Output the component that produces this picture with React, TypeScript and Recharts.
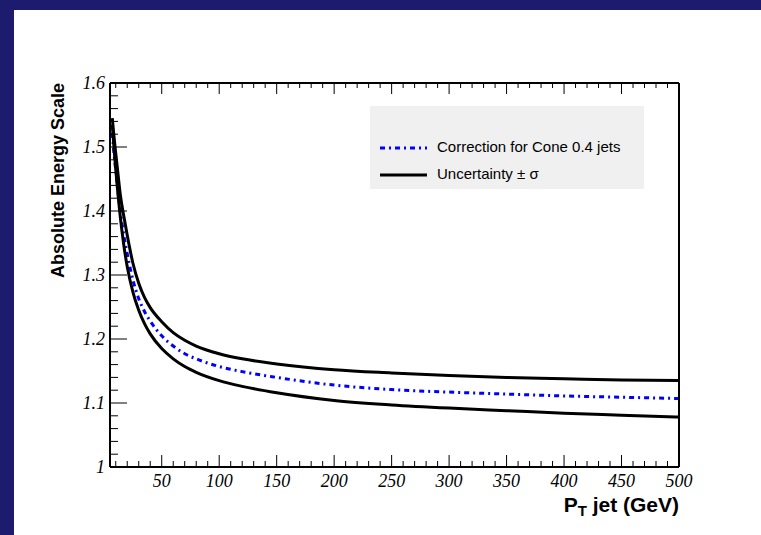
import { Line, LineChart, XAxis, YAxis } from "recharts";

// jet pT (GeV) sample points
const pt = [7, 8, 9, 10, 12, 14, 17, 20, 25, 30, 35, 40, 50, 60, 70, 80, 100, 120, 150, 200, 250, 300, 350, 400, 450, 500];

// correction for Cone 0.4 jets
const correction = [1.522, 1.5, 1.48, 1.465, 1.43, 1.4, 1.362, 1.333, 1.292, 1.263, 1.243, 1.228, 1.205, 1.189, 1.177, 1.169, 1.157, 1.149, 1.14, 1.128, 1.121, 1.117, 1.114, 1.111, 1.109, 1.107];

// uncertainty band +/- sigma
const upper = [1.545, 1.525, 1.507, 1.49, 1.457, 1.425, 1.392, 1.362, 1.318, 1.287, 1.265, 1.249, 1.227, 1.21, 1.198, 1.189, 1.177, 1.169, 1.161, 1.152, 1.147, 1.143, 1.14, 1.138, 1.136, 1.135];
const lower = [1.535, 1.51, 1.487, 1.465, 1.425, 1.39, 1.347, 1.313, 1.273, 1.245, 1.224, 1.208, 1.185, 1.169, 1.157, 1.148, 1.135, 1.126, 1.116, 1.104, 1.097, 1.092, 1.088, 1.084, 1.081, 1.078];

const xLabels = [50, 100, 150, 200, 250, 300, 350, 400, 450, 500];
const yLabels = [1, 1.1, 1.2, 1.3, 1.4, 1.5, 1.6];

const data = pt.map((p, i) => ({ pt: p, correction: correction[i], upper: upper[i], lower: lower[i] }));

const xTicks: number[] = [];
for (let v = 10; v <= 500; v += 10) xTicks.push(v);
const yTicks: number[] = [];
for (let i = 0; i <= 30; i++) yTicks.push(Math.round((1 + i * 0.02) * 100) / 100);

const isYMajor = (v: number) => yLabels.some((l) => Math.abs(l - v) < 1e-6);

const labelStyle = { fontFamily: "'Liberation Serif', 'DejaVu Serif', serif", fontStyle: "italic", fontSize: 18 };

function BottomTick({ x, y, payload }: any) {
  const major = xLabels.includes(payload.value);
  return (
    <g>
      <line x1={x} x2={x} y1={y} y2={y - (major ? 12 : 6)} stroke="#000" />
      {major && (
        <text x={x} y={y + 20} textAnchor="middle" fill="#000" style={labelStyle}>
          {payload.value}
        </text>
      )}
    </g>
  );
}

function TopTick({ x, y, payload }: any) {
  const major = xLabels.includes(payload.value);
  return <line x1={x} x2={x} y1={y} y2={y + (major ? 11 : 5)} stroke="#000" />;
}

function LeftTick({ x, y, payload }: any) {
  const major = isYMajor(payload.value);
  return (
    <g>
      <line x1={x} x2={x + (major ? 17 : 8)} y1={y} y2={y} stroke="#000" />
      {major && (
        <text x={x - 5} y={y + 6} textAnchor="end" fill="#000" style={labelStyle}>
          {String(Math.round(payload.value * 10) / 10)}
        </text>
      )}
    </g>
  );
}

function RightTick({ x, y, payload }: any) {
  const major = isYMajor(payload.value);
  return <line x1={x} x2={x - (major ? 17 : 8)} y1={y} y2={y} stroke="#000" />;
}

const sans = "'Liberation Sans', Arial, sans-serif";
const frame = { stroke: "#000", strokeWidth: 2 };

export default function App() {
  return (
    <div style={{ position: "fixed", left: 0, top: 0, width: 761, height: 535, background: "#1c1b6e", overflow: "hidden" }}>
      <div style={{ position: "absolute", left: 14, top: 10, width: 747, height: 525, background: "#fff" }} />
      <div style={{ position: "absolute", left: 0, top: 0 }}>
        <LineChart width={761} height={535} data={data} margin={{ top: 73, right: 72, bottom: 58, left: 100 }}>
          <XAxis xAxisId="b" type="number" dataKey="pt" domain={[5, 500]} ticks={xTicks} interval={0}
            height={10} tickSize={0} tickMargin={0} tick={BottomTick} axisLine={frame} />
          <XAxis xAxisId="t" orientation="top" type="number" dataKey="pt" domain={[5, 500]} ticks={xTicks} interval={0}
            height={10} tickSize={0} tickMargin={0} tick={TopTick} axisLine={frame} />
          <YAxis yAxisId="l" type="number" domain={[1, 1.6]} ticks={yTicks} interval={0}
            width={10} tickSize={0} tickMargin={0} tick={LeftTick} axisLine={frame} />
          <YAxis yAxisId="r" orientation="right" type="number" domain={[1, 1.6]} ticks={yTicks} interval={0}
            width={10} tickSize={0} tickMargin={0} tick={RightTick} axisLine={frame} />
          <Line xAxisId="b" yAxisId="l" type="monotone" dataKey="correction" stroke="#0000ff" strokeWidth={3}
            strokeDasharray="5 4 2 4" dot={false} isAnimationActive={false} />
          <Line xAxisId="b" yAxisId="l" type="monotone" dataKey="upper" stroke="#000" strokeWidth={3}
            dot={false} isAnimationActive={false} />
          <Line xAxisId="b" yAxisId="l" type="monotone" dataKey="lower" stroke="#000" strokeWidth={3}
            dot={false} isAnimationActive={false} />
        </LineChart>
      </div>
      <svg width={761} height={535} style={{ position: "absolute", left: 0, top: 0, pointerEvents: "none" }}>
        <text transform="translate(64,83) rotate(-90)" textAnchor="end" fill="#000"
          style={{ fontFamily: sans, fontWeight: "bold", fontSize: 18 }}>
          Absolute Energy Scale
        </text>
        <text x={679} y={512} textAnchor="end" fill="#000" style={{ fontFamily: sans, fontWeight: "bold", fontSize: 21 }}>
          P<tspan fontSize={15} dy={4}>T</tspan>
          <tspan dy={-4}> jet (GeV)</tspan>
        </text>
      </svg>
      <div style={{ position: "absolute", left: 370, top: 106, width: 274, height: 83, background: "#f0f0f0",
        fontFamily: sans, fontSize: 15, color: "#000" }}>
        <svg width={60} height={83} style={{ position: "absolute", left: 0, top: 0 }}>
          <line x1={10} x2={57} y1={42} y2={42} stroke="#0000ff" strokeWidth={3} strokeDasharray="5 4 2 4" />
          <line x1={10} x2={57} y1={69} y2={69} stroke="#000" strokeWidth={3} />
        </svg>
        <div style={{ position: "absolute", left: 67, top: 32, whiteSpace: "nowrap" }}>Correction for Cone 0.4 jets</div>
        <div style={{ position: "absolute", left: 67, top: 59, whiteSpace: "nowrap" }}>Uncertainty ± σ</div>
      </div>
    </div>
  );
}
